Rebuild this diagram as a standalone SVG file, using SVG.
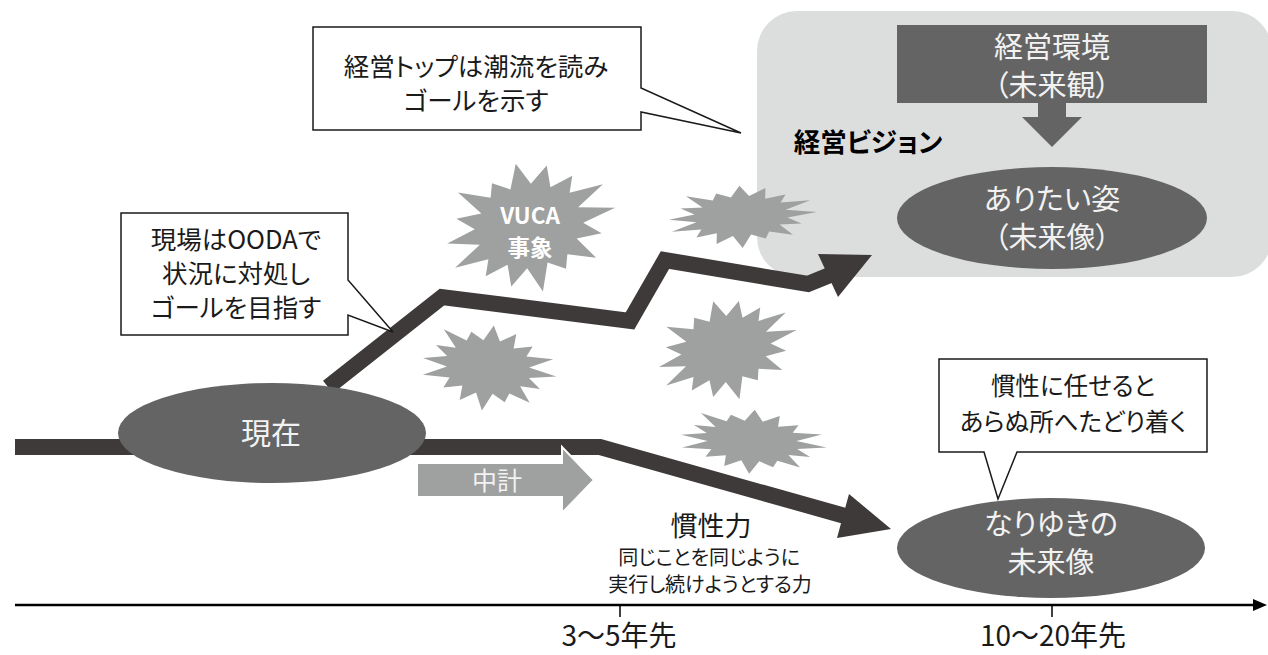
<svg xmlns="http://www.w3.org/2000/svg" xmlns:xlink="http://www.w3.org/1999/xlink" width="1268" height="655" viewBox="0 0 1268 655">
<style>
text{font-family:"Noto Sans CJK JP","Noto Sans",sans-serif;text-anchor:middle;font-feature-settings:"palt"}
.blk{fill:#1a1a1a}
.wht{fill:#f2f2f2}
.dark{fill:#646464}
.burst{fill:#9fa0a0}
.path{fill:none;stroke:#3e3a39;stroke-width:16;stroke-linejoin:miter}
.head{fill:#3e3a39}
.call{fill:#fff;stroke:#1a1a1a;stroke-width:1.5;stroke-linejoin:miter}
.big{font-size:29px}
.mid{font-size:25.5px}
.small{font-size:20px}
</style>
<defs>
<polygon id="burst" points="100,0 61,12 79,33 50,33 67,67 36,53 31,74 12,59 0,100 -12,61 -34,83 -33,50 -60,60 -53,36 -92,38 -59,12 -95,0 -61,-12 -79,-33 -50,-33 -71,-71 -36,-53 -31,-74 -12,-59 0,-95 12,-61 34,-83 33,-50 60,-60 53,-36 92,-38 59,-12"/>
<marker id="axhead" markerWidth="14" markerHeight="12" refX="2" refY="6" orient="auto" markerUnits="userSpaceOnUse">
<path d="M0,0 L14,6 L0,12 Z" fill="#000"/>
</marker>
</defs>

<g id="vision">
<rect x="757" y="11" width="515" height="266" rx="40" fill="#dcdddd"/>
<text x="868" y="152" font-size="26.5" font-weight="bold" fill="#000">経営ビジョン</text>
</g>
<g id="env">
<rect x="897" y="25" width="310" height="78" class="dark"/>
<text x="1052" y="58" class="big wht">経営環境</text>
<text x="1052" y="96" class="big wht">（未来観）</text>
</g>
<g id="env-arrow">
<polygon points="1038,102 1066,102 1066,117 1082,117 1052,147 1022,117 1038,117" class="dark"/>
</g>
<g id="ideal">
<ellipse cx="1052" cy="218" rx="155" ry="51" class="dark"/>
<text x="1052" y="210" class="big wht">ありたい姿</text>
<text x="1052" y="248" class="big wht">（未来像）</text>
</g>

<g id="bursts">
<g id="burst-vuca">
<use xlink:href="#burst" href="#burst" class="burst" transform="translate(529,226) rotate(-12) scale(0.88,0.67)"/>
<text x="530" y="224" font-size="22.5" font-weight="bold" fill="#fff">VUCA</text>
<text x="530" y="256" font-size="22.5" font-weight="bold" fill="#fff">事象</text>
</g>
<use id="burst-2" xlink:href="#burst" href="#burst" class="burst" transform="translate(741,216) rotate(-3) scale(0.76,0.32)"/>
<use id="burst-3" xlink:href="#burst" href="#burst" class="burst" transform="translate(488,367) rotate(8) scale(0.69,0.44)"/>
<use id="burst-4" xlink:href="#burst" href="#burst" class="burst" transform="translate(726,349) rotate(-15) scale(0.73,0.52)"/>
<use id="burst-5" xlink:href="#burst" href="#burst" class="burst" transform="translate(752,441) rotate(5) scale(0.75,0.33)"/>
</g>

<g id="connectors">
<path class="path" d="M328,387 L442,297 L630,321 L665,260 L808,284 L830,275"/>
<polygon class="head" points="818,254 872,255 838,297"/>
<path class="path" d="M15,447 L600,447 L845,516"/>
<polygon class="head" points="849,494 891,529 837,538"/>
</g>

<g id="now">
<ellipse cx="272" cy="433" rx="154" ry="50" class="dark"/>
<text x="271" y="444" font-size="30" class="wht">現在</text>
</g>
<g id="plan">
<polygon points="417,463 562,463 562,447 594,480 562,513 562,497 417,497" fill="#9fa0a0" stroke="#fff" stroke-width="2"/>
<text x="497" y="490" font-size="25" class="wht">中計</text>
</g>
<g id="drift">
<ellipse cx="1051" cy="548" rx="154" ry="50" class="dark"/>
<text x="1051" y="535" class="big wht">なりゆきの</text>
<text x="1051" y="573" class="big wht">未来像</text>
</g>

<g id="callout-top">
<path class="call" d="M313,27 H641 V88 L741,133 L641,112 V130 H313 Z"/>
<text x="476" y="76" class="mid blk">経営トップは潮流を読み</text>
<text x="476" y="110" class="mid blk">ゴールを示す</text>
</g>
<g id="callout-left">
<path class="call" d="M121,213 H348 V280 L393,332 L348,315 V335 H121 Z"/>
<text x="236" y="249" class="mid blk">現場はOODAで</text>
<text x="236" y="283" class="mid blk">状況に対処し</text>
<text x="236" y="317" class="mid blk">ゴールを目指す</text>
</g>
<g id="callout-right">
<path class="call" d="M939,359 H1207 V452 H1017 L998,499 L984,452 H939 Z"/>
<text x="1073" y="395" font-size="24.5" class="blk">慣性に任せると</text>
<text x="1073" y="431" font-size="24.5" class="blk">あらぬ所へたどり着く</text>
</g>

<g id="inertia">
<text x="711" y="536" font-size="27" class="blk">慣性力</text>
<text x="709" y="565" class="small blk">同じことを同じように</text>
<text x="710" y="592" class="small blk">実行し続けようとする力</text>
</g>

<g id="axis">
<line x1="15" y1="605" x2="1255" y2="605" stroke="#000" stroke-width="2.5" marker-end="url(#axhead)"/>
<line x1="620" y1="605" x2="620" y2="617" stroke="#000" stroke-width="1.5"/>
<line x1="1052" y1="605" x2="1052" y2="617" stroke="#000" stroke-width="1.5"/>
<text x="619" y="646" font-size="28" class="blk">3～5年先</text>
<text x="1053" y="646" font-size="28" class="blk">10～20年先</text>
</g>
</svg>
